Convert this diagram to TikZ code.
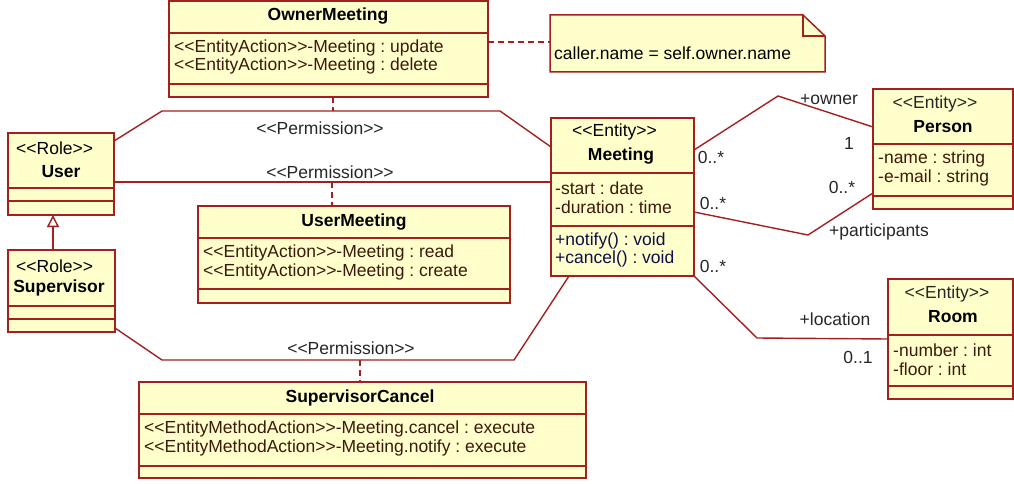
\documentclass[tikz,border=0pt]{standalone}
\usepackage{fontspec}
\setmainfont{Liberation Sans}
\usetikzlibrary{calc,positioning,arrows.meta,shapes}
\definecolor{umlred}{RGB}{163,32,32}
\definecolor{umlfill}{RGB}{255,255,204}
\definecolor{attrcol}{RGB}{60,25,10}
\definecolor{opcol}{RGB}{15,15,75}
\newcommand{\stereo}[1]{<{}<#1>{}>}
\newcommand{\compline}[2]{\draw[sep] ($(#1.north west)+(0,#2)$) -- ($(#1.north east)+(0,#2)$);}
\frenchspacing

\begin{document}
\begin{tikzpicture}[x=1pt,y=-1pt,font=\fontsize{17.5}{18.5}\selectfont,
  cls/.style={draw=umlred,fill=umlfill,line width=1.8pt,anchor=north west,inner sep=0pt,outer sep=0pt},
  sep/.style={draw=umlred,line width=1.5pt},
  assoc/.style={draw=umlred,line width=1.4pt},
  dep/.style={draw=umlred,line width=1.5pt,dash pattern=on 6pt off 4pt},
  ttl/.style={font=\fontsize{17.5}{18.5}\selectfont\bfseries,inner sep=0pt},
  txt/.style={anchor=west,inner sep=0pt,align=left},
  lbl/.style={inner sep=0pt,text=black!85}]
  \useasboundingbox (0,0) rectangle (1014,484);

  \node[cls,minimum width=319pt,minimum height=96pt] (owner) at (169,1) {};
  \node[cls,minimum width=106pt,minimum height=82pt] (user) at (8,133) {};
  \node[cls,minimum width=107pt,minimum height=82pt] (sup) at (8,250) {};
  \node[cls,minimum width=312pt,minimum height=97pt] (usermtg) at (198,206) {};
  \node[cls,minimum width=143pt,minimum height=158pt] (meeting) at (551,118) {};
  \node[cls,minimum width=140pt,minimum height=120pt] (person) at (873,89) {};
  \node[cls,minimum width=125pt,minimum height=120pt] (room) at (888,279) {};
  \node[cls,minimum width=447pt,minimum height=96pt] (supcancel) at (139,382) {};
  \node[anchor=north west,minimum width=275pt,minimum height=57pt,inner sep=0pt,outer sep=0pt] (note) at (550,15) {};

  \compline{owner}{32} \compline{owner}{83}
  \compline{user}{55} \compline{user}{68}
  \compline{sup}{56} \compline{sup}{69}
  \compline{usermtg}{32} \compline{usermtg}{83}
  \compline{meeting}{55} \compline{meeting}{108}
  \compline{person}{55} \compline{person}{107}
  \compline{room}{56} \compline{room}{107}
  \compline{supcancel}{32} \compline{supcancel}{84}

  \draw[draw=umlred,fill=umlfill,line width=1.5pt] (note.north west) -- ($(note.north east)+(-22,0)$) -- ($(note.north east)+(0,21)$) -- (note.south east) -- (note.south west) -- cycle;
  \draw[draw=umlred,line width=1.5pt] ($(note.north east)+(-22,0)$) -- ($(note.north east)+(-22,21)$) -- ($(note.north east)+(0,21)$);

  \node[ttl] (ownerttl) at (328,16) {OwnerMeeting};
  \node[txt,text=attrcol] (ownerops) at (174,57) {\stereo{EntityAction}-Meeting : update\\\stereo{EntityAction}-Meeting : delete};
  \node[txt] (notetxt) at (554,53) {caller.name = self.owner.name};
  \node[txt] (userst) at (16,148) {\stereo{Role}};
  \node[ttl] (userttl) at (61,172) {User};
  \node[txt] (supst) at (16,266) {\stereo{Role}};
  \node[ttl] (supttl) at (59,288) {Supervisor};
  \node[ttl] (usermtgttl) at (354,222) {UserMeeting};
  \node[txt,text=attrcol] (usermtgops) at (203,262.5) {\stereo{EntityAction}-Meeting : read\\\stereo{EntityAction}-Meeting : create};
  \node[txt] (meetingst) at (572,132) {\stereo{Entity}};
  \node[ttl] (meetingttl) at (621,156) {Meeting};
  \node[txt,text=attrcol] (meetingattr) at (555,197.5) {-start : date\\-duration : time};
  \node[txt,text=opcol] (meetingops) at (555,250) {+notify() : void\\+cancel() : void};
  \node[lbl] (personst) at (935,104) {\stereo{Entity}};
  \node[ttl] (personttl) at (943,127) {Person};
  \node[txt,text=attrcol] (personattr) at (878,168.5) {-name : string\\-e-mail : string};
  \node[lbl] (roomst) at (947,294) {\stereo{Entity}};
  \node[ttl] (roomttl) at (953,317) {Room};
  \node[txt,text=attrcol] (roomattr) at (893,359.5) {-number : int\\-floor : int};
  \node[ttl] (supcancelttl) at (360,398) {SupervisorCancel};
  \node[txt,text=attrcol] (supcancelops) at (144,438.5) {\stereo{EntityMethodAction}-Meeting.cancel : execute\\\stereo{EntityMethodAction}-Meeting.notify : execute};

  \coordinate (pm1) at (333,111);
  \coordinate (pm2) at (332,182);
  \coordinate (pm3) at (360,360);
  \coordinate (pn) at (520,42);
  \draw[assoc] ($(user.north east)+(0,8)$) -- (162,111) -- (500,111) -- ($(meeting.north west)+(0,29)$);
  \draw[assoc] ($(user.north east)+(0,49)$) -- ($(meeting.north west)+(0,64)$);
  \draw[assoc] ($(sup.north east)+(0,78)$) -- (162,360) -- (514,360) -- ($(meeting.south west)+(18,0)$);
  \draw[dep] (owner.south -| pm1) -- (pm1);
  \draw[dep] (pm2) -- (pm2 |- usermtg.north);
  \draw[dep] (pm3) -- (pm3 |- supcancel.north);
  \draw[dep] (owner.east |- pn) -- (note.west |- pn);
  \draw[assoc] ($(meeting.north east)+(0,32)$) -- (778,96) -- ($(person.north west)+(0,38)$);
  \draw[assoc] ($(meeting.north east)+(0,94)$) -- (808,235) -- ($(person.north west)+(0,104)$);
  \draw[assoc] (meeting.south east) -- (757,338) -- ($(room.north west)+(0,60)$);
  \draw[assoc,-{Triangle[open,length=12pt,width=12pt,fill=white]}] ($(sup.north west)+(45,0)$) -- ($(user.south west)+(45,0)$);

  \node[lbl] (lperm1) at (320,128) {\stereo{Permission}};
  \node[lbl] (lperm2) at (330,172) {\stereo{Permission}};
  \node[lbl] (lperm3) at (351,348) {\stereo{Permission}};
  \node[lbl] (lowner) at (829,100) {+owner};
  \node[lbl] (lone) at (849,143) {1};
  \node[lbl] (lmany1) at (711,157) {0..*};
  \node[lbl] (lmany2) at (713,203) {0..*};
  \node[lbl] (lmany3) at (842,187) {0..*};
  \node[lbl] (lpart) at (879,232) {+participants};
  \node[lbl] (lmany4) at (713,266) {0..*};
  \node[lbl] (lloc) at (835,319) {+location};
  \node[lbl] (lroom) at (858,357) {0..1};
\end{tikzpicture}
\end{document}
